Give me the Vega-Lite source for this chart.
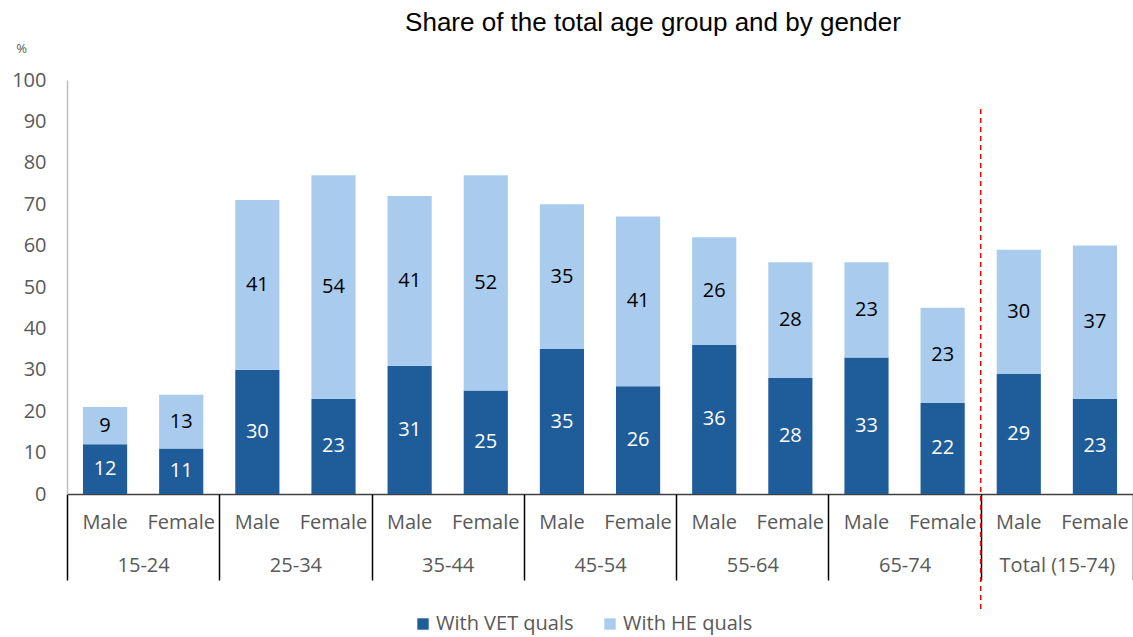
{
  "$schema": "https://vega.github.io/schema/vega-lite/v6.json",
  "autosize": {"type": "none"},
  "padding": {"left": 67, "top": 80, "right": 0, "bottom": 143},
  "width": 1066,
  "height": 414,
  "title": {
    "text": "Share of the total age group and by gender",
    "font": "Liberation Sans",
    "fontSize": 26,
    "fontWeight": "normal",
    "color": "#000000",
    "anchor": "middle",
    "offset": 6,
    "dx": 53
  },
  "config": {
    "view": {"stroke": null},
    "font": "Open Sans"
  },
  "datasets": {
    "bars": [
      {"key": "15-24|Male", "group": "15-24", "gender": "Male", "type": "With VET quals", "value": 12},
      {"key": "15-24|Male", "group": "15-24", "gender": "Male", "type": "With HE quals", "value": 9},
      {"key": "15-24|Female", "group": "15-24", "gender": "Female", "type": "With VET quals", "value": 11},
      {"key": "15-24|Female", "group": "15-24", "gender": "Female", "type": "With HE quals", "value": 13},
      {"key": "25-34|Male", "group": "25-34", "gender": "Male", "type": "With VET quals", "value": 30},
      {"key": "25-34|Male", "group": "25-34", "gender": "Male", "type": "With HE quals", "value": 41},
      {"key": "25-34|Female", "group": "25-34", "gender": "Female", "type": "With VET quals", "value": 23},
      {"key": "25-34|Female", "group": "25-34", "gender": "Female", "type": "With HE quals", "value": 54},
      {"key": "35-44|Male", "group": "35-44", "gender": "Male", "type": "With VET quals", "value": 31},
      {"key": "35-44|Male", "group": "35-44", "gender": "Male", "type": "With HE quals", "value": 41},
      {"key": "35-44|Female", "group": "35-44", "gender": "Female", "type": "With VET quals", "value": 25},
      {"key": "35-44|Female", "group": "35-44", "gender": "Female", "type": "With HE quals", "value": 52},
      {"key": "45-54|Male", "group": "45-54", "gender": "Male", "type": "With VET quals", "value": 35},
      {"key": "45-54|Male", "group": "45-54", "gender": "Male", "type": "With HE quals", "value": 35},
      {"key": "45-54|Female", "group": "45-54", "gender": "Female", "type": "With VET quals", "value": 26},
      {"key": "45-54|Female", "group": "45-54", "gender": "Female", "type": "With HE quals", "value": 41},
      {"key": "55-64|Male", "group": "55-64", "gender": "Male", "type": "With VET quals", "value": 36},
      {"key": "55-64|Male", "group": "55-64", "gender": "Male", "type": "With HE quals", "value": 26},
      {"key": "55-64|Female", "group": "55-64", "gender": "Female", "type": "With VET quals", "value": 28},
      {"key": "55-64|Female", "group": "55-64", "gender": "Female", "type": "With HE quals", "value": 28},
      {"key": "65-74|Male", "group": "65-74", "gender": "Male", "type": "With VET quals", "value": 33},
      {"key": "65-74|Male", "group": "65-74", "gender": "Male", "type": "With HE quals", "value": 23},
      {"key": "65-74|Female", "group": "65-74", "gender": "Female", "type": "With VET quals", "value": 22},
      {"key": "65-74|Female", "group": "65-74", "gender": "Female", "type": "With HE quals", "value": 23},
      {"key": "Total (15-74)|Male", "group": "Total (15-74)", "gender": "Male", "type": "With VET quals", "value": 29},
      {"key": "Total (15-74)|Male", "group": "Total (15-74)", "gender": "Male", "type": "With HE quals", "value": 30},
      {"key": "Total (15-74)|Female", "group": "Total (15-74)", "gender": "Female", "type": "With VET quals", "value": 23},
      {"key": "Total (15-74)|Female", "group": "Total (15-74)", "gender": "Female", "type": "With HE quals", "value": 37}
    ],
    "marker": [
      {"group": "Total (15-74)", "top": 93, "bottom": -28}
    ]
  },
  "layer": [
    {
      "data": {"name": "bars"},
      "encoding": {
        "x": {
          "field": "key",
          "type": "nominal",
          "sort": null,
          "scale": {"paddingInner": 0.42, "paddingOuter": 0.21},
          "axis": {
            "orient": "bottom",
            "title": null,
            "labelAngle": 0,
            "labelExpr": "split(datum.value, '|')[1]",
            "labelFont": "Open Sans",
            "labelFontSize": 20,
            "labelColor": "#595959",
            "labelPadding": 18,
            "ticks": false,
            "domain": true,
            "domainColor": "#404040",
            "domainWidth": 1.5,
            "grid": false
          }
        }
      },
      "layer": [
        {
          "mark": {"type": "bar"},
          "encoding": {
            "y": {
              "field": "value",
              "type": "quantitative",
              "stack": "zero",
              "scale": {"domain": [0, 100]},
              "axis": {
                "title": "%",
                "titleAngle": 0,
                "titleX": -46,
                "titleY": -32,
                "titleAlign": "center",
                "titleBaseline": "middle",
                "titleFont": "Open Sans",
                "titleFontSize": 13,
                "titleFontWeight": "normal",
                "titleColor": "#595959",
                "values": [0, 10, 20, 30, 40, 50, 60, 70, 80, 90, 100],
                "labelFont": "Open Sans",
                "labelFontSize": 20,
                "labelColor": "#595959",
                "labelPadding": 21,
                "ticks": false,
                "grid": false,
                "domain": true,
                "domainColor": "#bfbfbf",
                "domainWidth": 1.5
              }
            },
            "color": {
              "field": "type",
              "type": "nominal",
              "scale": {
                "domain": ["With VET quals", "With HE quals"],
                "range": ["#1F5C9A", "#A9CCEE"]
              },
              "legend": {
                "title": null,
                "orient": "none",
                "direction": "horizontal",
                "legendX": 346,
                "legendY": 534,
                "symbolType": "square",
                "symbolSize": 130,
                "symbolStrokeWidth": 0,
                "labelFont": "Open Sans",
                "labelFontSize": 20,
                "labelColor": "#595959",
                "columnPadding": 26,
                "labelOffset": 3
              }
            },
            "order": {"field": "type", "sort": "descending"}
          }
        },
        {
          "transform": [
            {"stack": "value", "groupby": ["key"], "sort": [{"field": "type", "order": "descending"}], "as": ["v0", "v1"]},
            {"calculate": "(datum.v0 + datum.v1) / 2", "as": "labelPos"}
          ],
          "mark": {"type": "text", "font": "Open Sans", "fontSize": 20, "baseline": "middle"},
          "encoding": {
            "y": {"field": "labelPos", "type": "quantitative"},
            "text": {"field": "value", "type": "quantitative"},
            "color": {
              "condition": {"test": "datum.type === 'With VET quals'", "value": "#ffffff"},
              "value": "#000000"
            }
          }
        }
      ]
    },
    {
      "data": {"name": "marker"},
      "mark": {"type": "rule", "color": "#ff0000", "strokeDash": [5, 4], "strokeWidth": 1.5, "clip": false},
      "encoding": {
        "x": {
          "field": "group",
          "type": "nominal",
          "bandPosition": 0,
          "scale": {
            "domain": ["15-24", "25-34", "35-44", "45-54", "55-64", "65-74", "Total (15-74)"],
            "paddingInner": 0,
            "paddingOuter": 0
          },
          "axis": {
            "orient": "bottom",
            "title": null,
            "labelAngle": 0,
            "labelFont": "Open Sans",
            "labelFontSize": 20,
            "labelColor": "#595959",
            "labelPadding": -25,
            "ticks": true,
            "tickBand": "extent",
            "tickSize": 86,
            "tickColor": "#000000",
            "tickWidth": 1.5,
            "domain": false,
            "grid": false
          }
        },
        "y": {"field": "top", "type": "quantitative"},
        "y2": {"field": "bottom"}
      }
    }
  ],
  "resolve": {"scale": {"x": "independent"}, "axis": {"x": "independent"}}
}
